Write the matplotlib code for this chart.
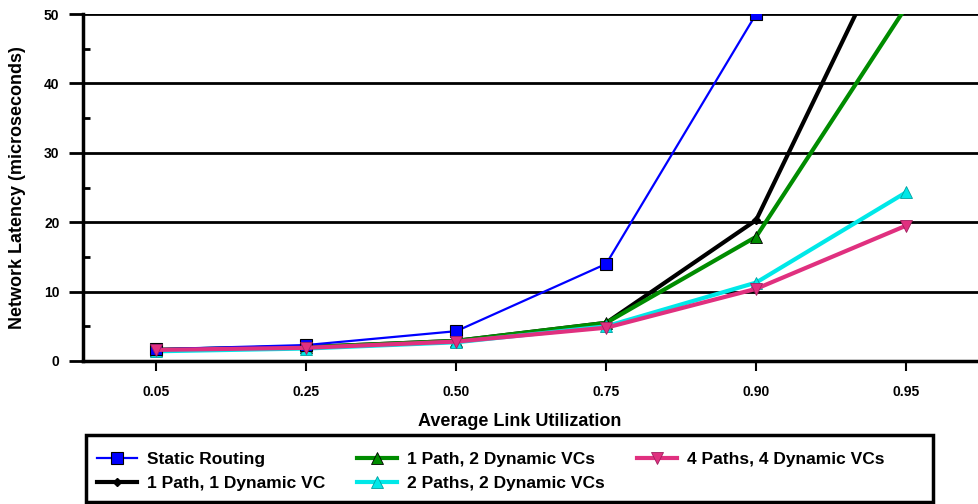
import numpy as np
import matplotlib
matplotlib.use('Agg')
import matplotlib.pyplot as plt
from matplotlib.ticker import MultipleLocator
from matplotlib.patches import Rectangle

plt.rcParams['font.family'] = ['Liberation Sans', 'DejaVu Sans']

# Data
utilization = ['0.05', '0.25', '0.50', '0.75', '0.90', '0.95']
static_routing = [1.7, 2.3, 4.3, 14.0, 50.0, np.nan]
p1_vc1 = [1.6, 2.0, 2.9, 5.5, 20.3, 65.0]
p1_vc2 = [1.6, 2.0, 2.9, 5.5, 17.9, 51.0]
p2_vc2 = [1.4, 1.8, 2.7, 5.0, 11.3, 24.3]
p4_vc4 = [1.6, 1.9, 2.8, 4.8, 10.4, 19.5]

W, H = 979, 504
fig = plt.figure(figsize=(W/100, H/100), dpi=100)
ax_w = W - 83 + 20
ax = fig.add_axes([83/W, 1 - 361/H, ax_w/W, (361 - 14)/H])

x = np.arange(len(utilization))

ax.plot(x, static_routing, '-', color='#0000ff', lw=1.6, marker='s', ms=8,
        mfc='#0000ff', mec='black', mew=0.8, label='Static Routing', zorder=5)
ax.plot(x, p1_vc1, '-', color='black', lw=3, marker='D', ms=4,
        mfc='black', mec='black', label='1 Path, 1 Dynamic VC', zorder=4)
ax.plot(x, p1_vc2, '-', color='#008c00', lw=3, marker='^', ms=8,
        mfc='#008c00', mec='black', mew=0.6, label='1 Path, 2 Dynamic VCs', zorder=4)
ax.plot(x, p2_vc2, '-', color='#00e8e8', lw=3, marker='^', ms=8,
        mfc='#00e8e8', mec='#00a0a0', mew=0.6, label='2 Paths, 2 Dynamic VCs', zorder=4)
ax.plot(x, p4_vc4, '-', color='#e0307f', lw=3, marker='v', ms=8,
        mfc='#e0307f', mec='#a02060', mew=0.6, label='4 Paths, 4 Dynamic VCs', zorder=5)

ax.set_xlim(-0.49, 5.62)
ax.set_ylim(0, 50)
ax.set_xticks(x)
ax.set_xticklabels(utilization, fontsize=10, fontweight='bold')
ax.yaxis.set_major_locator(MultipleLocator(10))
ax.yaxis.set_minor_locator(MultipleLocator(5))
for lab in ax.get_yticklabels():
    lab.set_fontsize(10)
    lab.set_fontweight('bold')

ax.grid(axis='y', which='major', color='black', lw=2, zorder=1)
ax.set_axisbelow(True)
ax.spines['top'].set_visible(False)
ax.spines['right'].set_visible(False)
ax.spines['left'].set_linewidth(2.5)
ax.spines['bottom'].set_linewidth(2.5)

ax.tick_params(axis='y', which='major', direction='out', length=10, width=2, pad=7)
ax.tick_params(axis='y', which='minor', direction='in', length=5, width=2)
ax.tick_params(axis='x', which='major', direction='out', length=7, width=1.5, pad=10)

ax.set_ylabel('Network Latency (microseconds)', fontsize=13, fontweight='bold', va='center')
ax.yaxis.set_label_coords(-65/ax_w, 0.5)
ax.set_xlabel('Average Link Utilization', fontsize=13, fontweight='bold', va='center')
ax.xaxis.set_label_coords((520 - 83)/ax_w, -(422 - 361)/347)

# legend box drawn by hand, entries placed inside it
fig.patches.append(Rectangle((86/W, 2/H), (933 - 86)/W, (502 - 435)/H,
                             transform=fig.transFigure, fill=False,
                             edgecolor='black', lw=2.5))
handles, labels = ax.get_legend_handles_labels()
leg = fig.legend(handles, labels, loc='upper left', bbox_to_anchor=(97/W, 1 - 452/H),
                 ncol=3, frameon=False, borderpad=0, borderaxespad=0,
                 handlelength=2.3, handletextpad=0.57, columnspacing=1.85,
                 labelspacing=0.5, prop={'size': 12.5, 'weight': 'bold'})

fig.savefig('out.png', dpi=100)
